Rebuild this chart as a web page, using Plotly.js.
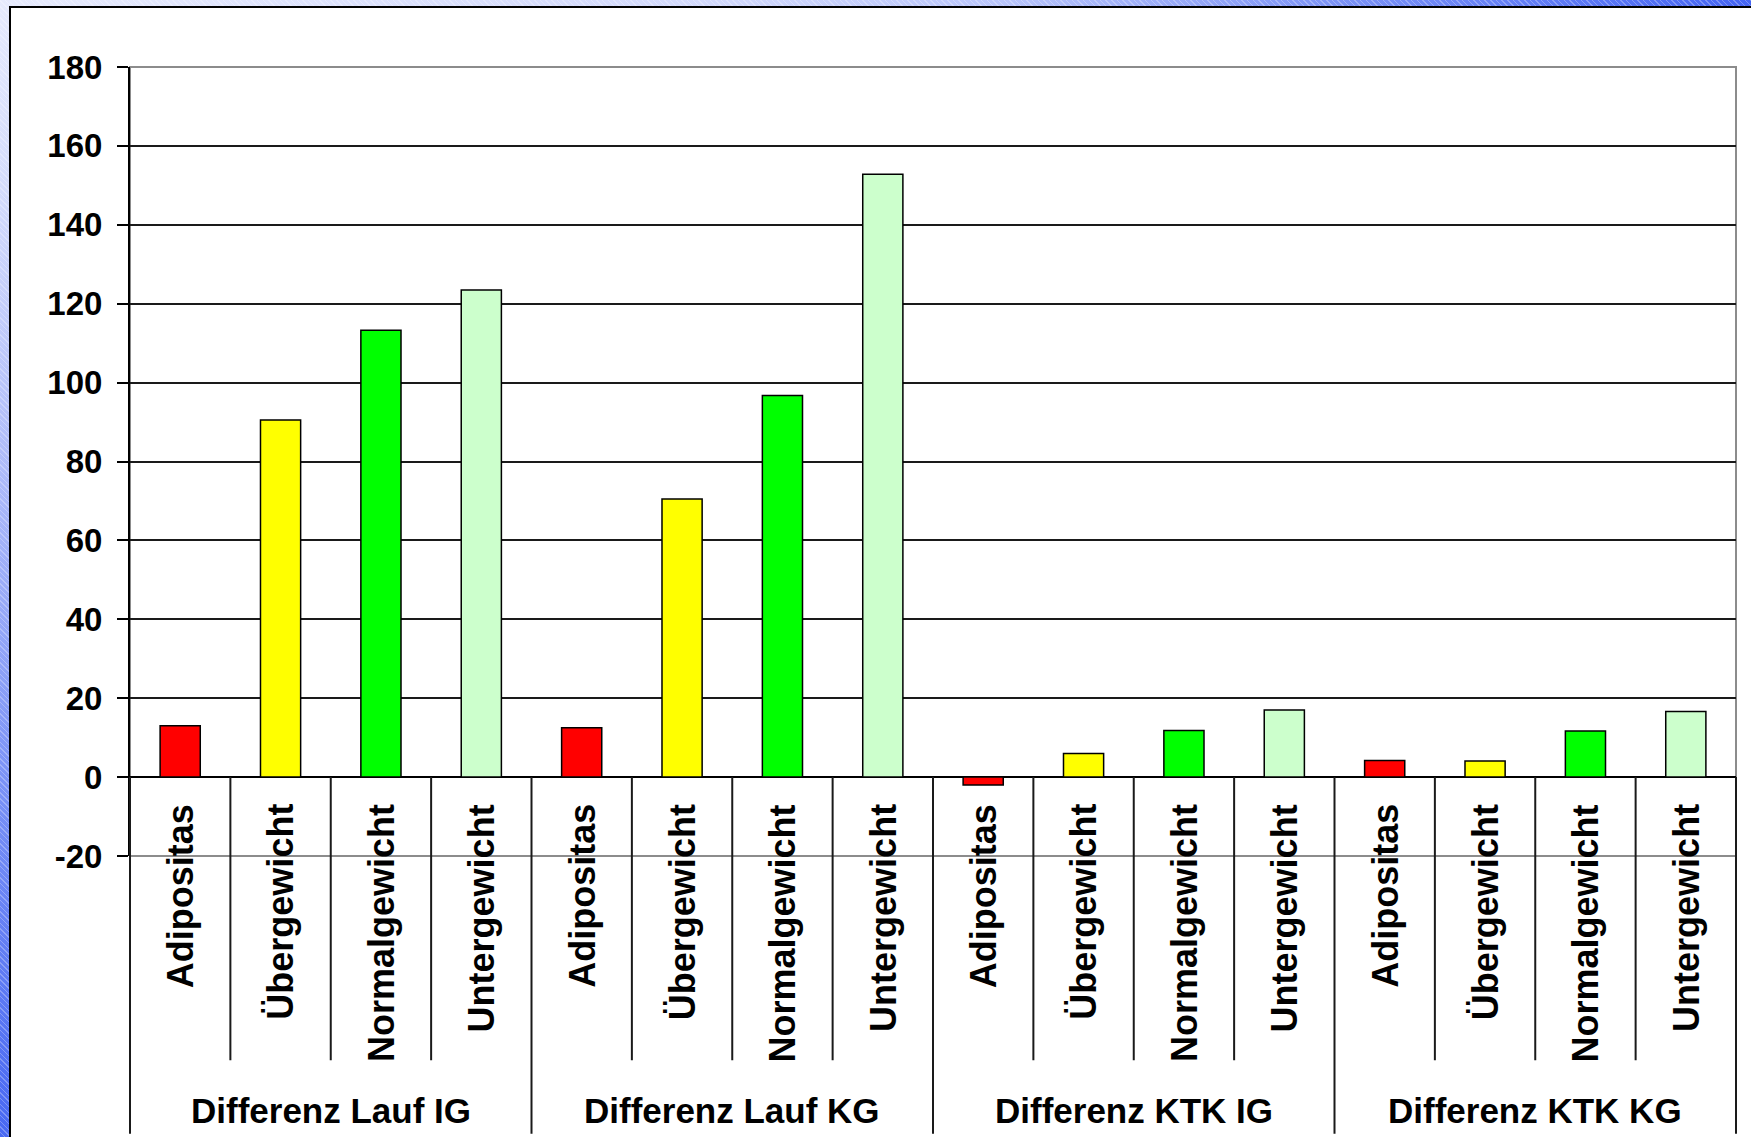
<!DOCTYPE html>
<html>
<head>
<meta charset="utf-8">
<script src="https://cdn.plot.ly/plotly-3.0.1.min.js"></script>
<style>
html, body { margin: 0; padding: 0; width: 1751px; height: 1137px; overflow: hidden; background: #fff; }
.hatch { position: absolute; }
#topstrip { left: 0; top: 0; width: 1751px; height: 8px;
  background: repeating-linear-gradient(45deg, rgba(255,255,255,0) 0 3px, rgba(255,255,255,0.28) 3px 4px),
              linear-gradient(to right, #e6eafd 0%, #d2d9fc 40%, #b9c5fb 57%, #7a91f6 77%, #4565f4 100%); }
#leftstrip { left: 0; top: 0; width: 10px; height: 1137px;
  background: repeating-linear-gradient(45deg, rgba(255,255,255,0) 0 3px, rgba(255,255,255,0.28) 3px 4px),
              linear-gradient(to bottom, #e6eafd 0%, #d6ddfc 15%, #a9b7f9 44%, #7890f6 70%, #4868f2 100%); }
#panel { position: absolute; left: 9px; top: 6px; width: 1800px; height: 1200px; background: #fff;
  border-left: 2.5px solid #000; border-top: 2.5px solid #000; }
#chart { position: absolute; left: 0; top: 0; width: 1751px; height: 1137px; }
</style>
</head>
<body>
<div id="topstrip" class="hatch"></div>
<div id="leftstrip" class="hatch"></div>
<div id="panel"></div>
<div id="chart"></div>
<script>
// ---- data ----
const groups = ['Differenz Lauf IG', 'Differenz Lauf KG', 'Differenz KTK IG', 'Differenz KTK KG'];
const subcats = ['Adipositas', 'Übergewicht', 'Normalgewicht', 'Untergewicht'];
const adipositas    = [13.0, 12.5, -2.0, 4.2];
const uebergewicht  = [90.5, 70.5, 6.0, 4.1];
const normalgewicht = [113.3, 96.7, 11.8, 11.7];
const untergewicht  = [123.5, 152.8, 17.0, 16.6];
const seriesColors  = ['#FF0000', '#FFFF00', '#00FF00', '#CCFFCC'];
const yTicks = [-20, 0, 20, 40, 60, 80, 100, 120, 140, 160, 180];

// ---- build ----
const FONT = 'Liberation Sans, Arial, Helvetica, sans-serif';
const series = [adipositas, uebergewicht, normalgewicht, untergewicht];
const yMin = yTicks[0], yMax = yTicks[yTicks.length - 1];

const traces = series.map((vals, j) => ({
  type: 'bar',
  name: subcats[j],
  x: groups,
  y: vals,
  marker: { color: seriesColors[j], line: { color: '#000', width: 1.5 } },
  hoverinfo: 'x+y+name'
}));

const nSub = subcats.length, nGrp = groups.length, nCat = nSub * nGrp;
const zeroFrac = (0 - yMin) / (yMax - yMin);
const shapes = [];
// plot-area frame (grey)
shapes.push({ type: 'rect', xref: 'paper', yref: 'paper', x0: 0, x1: 1, y0: 0, y1: 1,
  line: { color: '#8c8c8c', width: 2 }, layer: 'between' });
// category separators below the zero line
for (let b = 0; b <= nCat; b++) {
  const isGroup = b % nSub === 0;
  shapes.push({ type: 'line', xref: 'paper', yref: 'paper',
    x0: b / nCat, x1: b / nCat, y0: zeroFrac, y1: isGroup ? -0.352 : -0.259,
    line: { color: '#1a1a1a', width: 2 }, layer: 'above' });
}

const annotations = [];
groups.forEach((g, i) => {
  subcats.forEach((s, j) => {
    annotations.push({ xref: 'x', yref: 'y', x: i - 0.375 + 0.25 * j, y: 0,
      text: s, textangle: -90, showarrow: false, xanchor: 'center', yanchor: 'top', yshift: -25,
      font: { family: FONT, size: 36, color: '#000', weight: 'bold' } });
  });
  annotations.push({ xref: 'x', yref: 'y', x: i, y: 0, text: g, showarrow: false,
    xanchor: 'center', yanchor: 'middle', yshift: -333,
    font: { family: FONT, size: 35, color: '#000', weight: 'bold' } });
});

const layout = {
  width: 1751, height: 1137,
  margin: { l: 130, r: 15, t: 67, b: 281, pad: 0 },
  paper_bgcolor: 'rgba(0,0,0,0)',
  plot_bgcolor: 'rgba(0,0,0,0)',
  showlegend: false,
  barmode: 'group',
  bargap: 0,
  bargroupgap: 0.6,
  xaxis: { type: 'category', range: [-0.5, nGrp - 0.5], showticklabels: false, showgrid: false,
    zeroline: false, showline: false, ticks: '', fixedrange: true },
  yaxis: { range: [yMin, yMax], tickmode: 'array', tickvals: yTicks, ticktext: yTicks.map(String),
    ticks: 'outside', ticklen: 11, tickwidth: 2, tickcolor: '#000', ticklabelstandoff: 8,
    showline: true, linecolor: '#000', linewidth: 2,
    showgrid: true, gridcolor: '#1a1a1a', gridwidth: 2,
    zeroline: true, zerolinecolor: '#000', zerolinewidth: 2,
    tickfont: { family: FONT, size: 33, color: '#000', weight: 'bold' }, fixedrange: true },
  shapes: shapes,
  annotations: annotations,
  font: { family: FONT, color: '#000' }
};

Plotly.newPlot('chart', traces, layout, { displayModeBar: false, staticPlot: true });
</script>
</body>
</html>
